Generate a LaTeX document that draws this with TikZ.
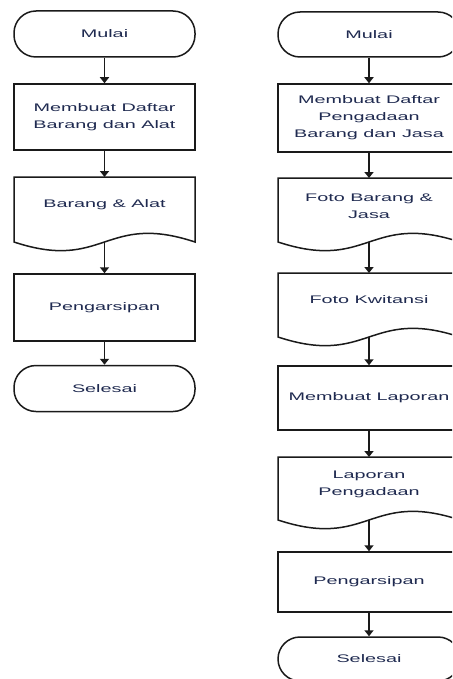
\documentclass[tikz,border=0pt]{standalone}
\usepackage{fontspec}
\setmainfont{Liberation Sans}[FakeStretch=1.8]
\usetikzlibrary{arrows.meta,calc}
\definecolor{ln}{HTML}{1A1A1A}
\definecolor{txt}{HTML}{1F2A50}
\begin{document}
\begin{tikzpicture}[x=1pt,y=-1pt,
  every node/.style={font=\fontsize{11}{17}\selectfont, text=txt, align=center, inner sep=0pt},
  proc/.style={draw=ln, line width=1.5pt, minimum width=181pt},
  term/.style={draw=ln, line width=1.5pt, rounded corners=22pt, minimum width=181pt},
  docline/.style={draw=ln, line width=1.5pt},
  arr/.style={draw=ln, line width=1.5pt, -{Triangle[length=6pt,width=9pt]}},
]
\useasboundingbox (0,0) rectangle (452,679);
\fill[white] (0,0) rectangle (452,679);
\clip (0,0) rectangle (452,679);

% ---------- left column ----------
\node[term, minimum height=46pt] (lT) at (104.5,34) {Mulai};
\node[proc, minimum height=66pt] (l2) at (104.5,117) {Membuat Daftar\\Barang dan Alat};
\draw[docline] (14,177) -- (195,177) -- (195,242)
  .. controls (104.5,212) and (104.5,272) .. (14,242) -- cycle;
\coordinate (l3top) at (104.5,177);
\coordinate (l3b) at (104.5,242);
\node (l3) at (104.5,205) {Barang \& Alat};
\node[proc, minimum height=67pt] (l4) at (104.5,307.5) {Pengarsipan};
\node[term, minimum height=46pt] (l5) at (104.5,388.5) {Selesai};

\draw[arr] (lT) -- (l2);
\draw[arr] (l2) -- (l3top);
\draw[arr] (l3b) -- (l4);
\draw[arr] (l4) -- (l5);

% ---------- right column ----------
\node[term, minimum width=182pt, minimum height=45pt] (rT) at (369,34.5) {Mulai};
\node[proc, minimum width=182pt, minimum height=68pt] (r2) at (369,118) {Membuat Daftar\\Pengadaan\\Barang dan Jasa};
% doc: Foto Barang & Jasa
\draw[docline] (278,178) -- (460,178) -- (460,242)
  .. controls (369,212) and (369,272) .. (278,242) -- cycle;
\coordinate (r3top) at (369,178);
\coordinate (r3b) at (369,242);
\node (r3) at (369,206.5) {Foto Barang \&\\Jasa};
% doc: Foto Kwitansi
\draw[docline] (278,273) -- (460,273) -- (460,337)
  .. controls (369,307) and (369,367) .. (278,337) -- cycle;
\coordinate (r4top) at (369,273);
\coordinate (r4b) at (369,337);
\node (r4) at (369,300) {Foto Kwitansi};
\node[proc, minimum width=182pt, minimum height=64pt] (r5) at (369,398) {Membuat Laporan};
% doc: Laporan Pengadaan
\draw[docline] (278,457) -- (460,457) -- (460,520)
  .. controls (369,490) and (369,550) .. (278,520) -- cycle;
\coordinate (r6top) at (369,457);
\coordinate (r6b) at (369,520);
\node (r6) at (369,484) {Laporan\\Pengadaan};
\node[proc, minimum width=182pt, minimum height=60pt] (r7) at (369,582) {Pengarsipan};
\node[term, minimum width=182pt, minimum height=44pt] (r8) at (369,659) {Selesai};

\draw[arr] (rT) -- (r2);
\draw[arr] (r2) -- (r3top);
\draw[arr] (r3b) -- (r4top);
\draw[arr] (r4b) -- (r5);
\draw[arr] (r5) -- (r6top);
\draw[arr] (r6b) -- (r7);
\draw[arr] (r7) -- (r8);
\end{tikzpicture}
\end{document}
